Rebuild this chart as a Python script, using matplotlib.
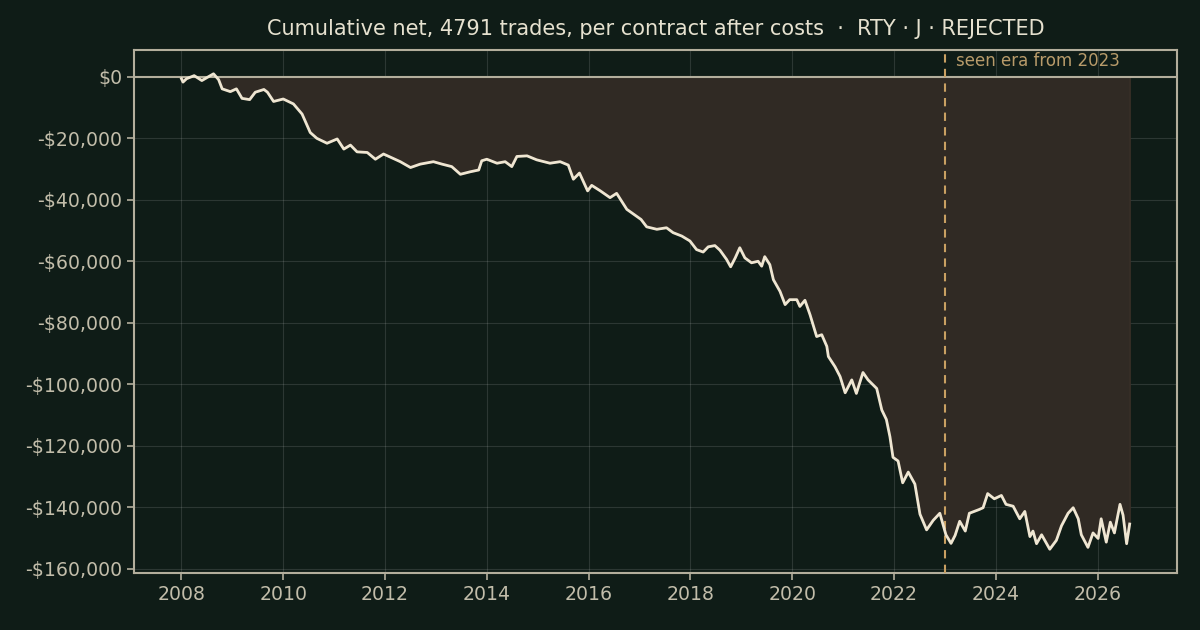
import matplotlib
matplotlib.use("Agg")
import matplotlib.pyplot as plt
from matplotlib.ticker import FuncFormatter

# cumulative net in $, x in decimal years
years = [
    2008.00, 2008.03, 2008.10, 2008.25, 2008.40, 2008.63, 2008.73, 2008.80, 2008.96, 2009.08,
    2009.19, 2009.34, 2009.45, 2009.62, 2009.69, 2009.81, 2010.00, 2010.20, 2010.37, 2010.53,
    2010.66, 2010.86, 2011.06, 2011.19, 2011.32, 2011.45, 2011.65, 2011.81, 2011.97, 2012.17,
    2012.30, 2012.50, 2012.69, 2012.95, 2013.12, 2013.31, 2013.48, 2013.67, 2013.84, 2013.90,
    2014.00, 2014.20, 2014.36, 2014.49, 2014.59, 2014.79, 2014.98, 2015.24, 2015.44, 2015.60,
    2015.70, 2015.82, 2015.98, 2016.06, 2016.23, 2016.42, 2016.55, 2016.75, 2017.03, 2017.14,
    2017.34, 2017.53, 2017.66, 2017.83, 2017.99, 2018.12, 2018.25, 2018.35, 2018.48, 2018.58,
    2018.71, 2018.79, 2018.88, 2018.97, 2019.07, 2019.20, 2019.33, 2019.40, 2019.46, 2019.56,
    2019.63, 2019.76, 2019.86, 2019.95, 2020.09, 2020.15, 2020.25, 2020.35, 2020.48, 2020.58,
    2020.68, 2020.71, 2020.84, 2020.94, 2021.04, 2021.17, 2021.26, 2021.39, 2021.49, 2021.66,
    2021.76, 2021.85, 2021.92, 2021.98, 2022.08, 2022.17, 2022.28, 2022.41, 2022.51, 2022.64,
    2022.77, 2022.90, 2023.02, 2023.12, 2023.20, 2023.29, 2023.40, 2023.48, 2023.67, 2023.75,
    2023.84, 2023.97, 2024.11, 2024.20, 2024.34, 2024.47, 2024.57, 2024.67, 2024.73, 2024.80,
    2024.90, 2025.06, 2025.19, 2025.29, 2025.42, 2025.52, 2025.62, 2025.68, 2025.81, 2025.91,
    2026.01, 2026.07, 2026.17, 2026.25, 2026.33, 2026.44, 2026.50, 2026.57, 2026.63,
]
cum_net = [
    -600, -1700, -600, 400, -1200, 1000, -900, -3900, -4800, -3900,
    -7000, -7400, -5000, -4100, -5000, -8000, -7200, -8800, -12100, -18100,
    -20000, -21600, -20200, -23500, -22200, -24400, -24600, -26800, -25100, -26600,
    -27600, -29500, -28400, -27600, -28400, -29200, -31700, -30900, -30300, -27300,
    -26800, -28100, -27600, -29200, -25900, -25700, -27000, -28100, -27600, -28700,
    -33300, -31300, -37100, -35300, -37100, -39300, -37900, -43100, -46400, -48800,
    -49600, -49100, -50700, -51800, -53400, -56200, -57000, -55300, -54900, -56400,
    -59400, -61800, -58900, -55600, -58900, -60500, -60000, -61600, -58500, -61100,
    -66000, -69800, -74100, -72500, -72500, -74700, -72700, -77400, -84500, -83900,
    -87700, -91000, -94300, -97500, -102800, -98600, -103000, -96200, -98600, -101400,
    -108400, -111500, -117100, -123800, -125000, -132100, -128600, -132500, -142300, -147400,
    -144300, -142000, -149000, -151800, -149200, -144600, -147800, -142000, -140800, -140200,
    -135600, -137300, -136200, -139100, -139700, -143800, -141400, -149600, -147800, -151900,
    -149000, -153700, -150800, -146100, -142000, -140200, -143800, -149000, -153100, -148400,
    -150200, -143800, -151400, -144900, -148400, -139100, -142600, -151900, -145500,
]
x_ticks = [2008, 2010, 2012, 2014, 2016, 2018, 2020, 2022, 2024, 2026]
seen_from = 2023.0

BG = "#0f1c17"
FG = "#b3ae9c"
LINE = "#efe6d2"

fig = plt.figure(figsize=(12, 6.3), dpi=100, facecolor=BG)
ax = fig.add_axes([0.1117, 0.0905, 0.8692, 0.8301])
ax.set_facecolor(BG)

ax.fill_between(years, cum_net, 0, color="#302a24", edgecolor="#3a3028", linewidth=1, zorder=1)
ax.axhline(0, color=FG, linewidth=1.5, zorder=2)
ax.plot(years, cum_net, color=LINE, linewidth=2, zorder=4)
ax.axvline(seen_from, color="#c9a062", linewidth=1.5, linestyle=(0, (4, 3)), zorder=3)
ax.text(seen_from + 0.22, 0.996, "seen era from 2023", transform=ax.get_xaxis_transform(),
        color="#b89b6a", fontsize=12, va="top", ha="left")

ax.set_xticks(x_ticks)
ax.yaxis.set_major_formatter(FuncFormatter(lambda v, p: f"${v:,.0f}" if v >= 0 else f"-${-v:,.0f}"))
ax.grid(True, color="#ffffff", alpha=0.12, linewidth=0.8)
ax.set_axisbelow(True)
for s in ax.spines.values():
    s.set_color(FG)
    s.set_linewidth(1.5)
ax.tick_params(colors=FG, labelcolor="#c2bdaa", labelsize=13.6, length=5, width=1.2)

ax.set_title("Cumulative net, 4791 trades, per contract after costs  ·  RTY · J · REJECTED",
             color="#e6e1cf", fontsize=15, pad=11)

fig.savefig("out.png", dpi=100, facecolor=BG)
